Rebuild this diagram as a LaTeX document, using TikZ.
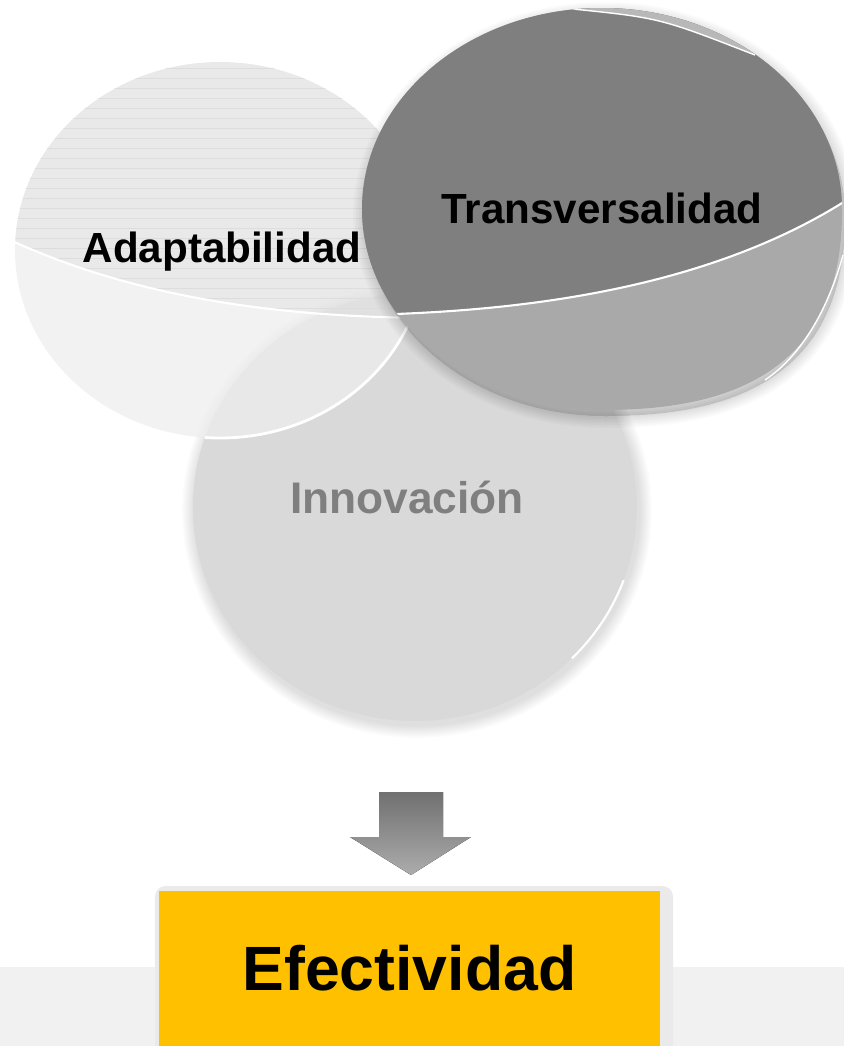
\documentclass[tikz,border=0pt]{standalone}
\usepackage{fontspec}
\setmainfont{Liberation Sans}
\definecolor{amarillo}{RGB}{255,192,0}
\definecolor{fondo}{RGB}{241,241,241}
\definecolor{adaptsup}{RGB}{227,227,227}
\definecolor{adaptinf}{RGB}{238,238,238}
\definecolor{raya}{RGB}{221,221,221}
\definecolor{innov}{RGB}{217,217,217}
\definecolor{transvsup}{RGB}{127,127,127}
\definecolor{transvinf}{RGB}{169,169,169}
\definecolor{borde}{RGB}{184,184,184}
\definecolor{textogris}{RGB}{127,127,127}
\definecolor{sombra}{RGB}{234,234,234}
\newcommand\formaT{(602,8) .. controls (734,8) and (842,98) .. (842,209) .. controls (844,390) and (700,410) .. (602,410) .. controls (470,410) and (362,320) .. (362,209) .. controls (362,98) and (470,8) .. (602,8) -- cycle}
\newcommand\curvaA{(10,240) .. controls (130,295) and (270,318) .. (440,318)}

\begin{document}
\begin{tikzpicture}[x=0.02cm, y=-0.02cm,
    etiqueta/.style={font=\bfseries\fontsize{24}{28}\selectfont, inner sep=0pt, anchor=base},
    brillo/.style={white, line width=1.2pt},
    capa/.style={black, opacity=0.016}]
  \clip (0,0) rectangle (844,1046);
  \fill[white] (0,0) rectangle (844,1046);
  \fill[fondo] (0,967) rectangle (844,1046);

  % Innovacion
  \foreach \k [evaluate=\k as \rx using 222+1.6*\k, evaluate=\k as \ry using 214+1.6*\k] in {1,...,8}
    \fill[capa] (417,511) ellipse [x radius=\rx, y radius=\ry];
  \fill[innov] (415,507) ellipse [x radius=222, y radius=214];
  \draw[brillo] (623.6,580.2) arc [start angle=20, end angle=45, x radius=222, y radius=214];

  % Adaptabilidad
  \begin{scope}
    \clip (220,250) ellipse [x radius=205, y radius=188];
    \fill[adaptsup, fill opacity=0.76] (0,0) -- (0,240) -- \curvaA -- (440,0) -- cycle;
    \fill[adaptinf, fill opacity=0.76] (0,500) -- (0,240) -- \curvaA -- (440,500) -- cycle;
    \begin{scope}
      \clip (0,0) -- (0,240) -- \curvaA -- (440,0) -- cycle;
      \foreach \yy in {68,78,...,318}
        \draw[raya, line width=0.35pt] (0,\yy) -- (440,\yy);
    \end{scope}
    \draw[brillo] \curvaA;
  \end{scope}
  \begin{scope}
    \clip (415,507) ellipse [x radius=222, y radius=214];
    \draw[brillo, line width=1.6pt] (220,250) ellipse [x radius=205, y radius=188];
  \end{scope}

  % Transversalidad
  \begin{scope}[shift={(3,6)}]
    \foreach \w in {1,...,8}
      \filldraw[capa, line width=\w*0.06cm] \formaT;
  \end{scope}
  \fill[transvinf] \formaT;
  \begin{scope}
    \clip \formaT;
    \fill[transvsup] (340,0) -- (340,315) -- (362,315) .. controls (500,312) and (700,295) .. (850,198) -- (850,0) -- cycle;
    \fill[borde] (573,9) .. controls (660,18) .. (755,55) -- (760,0) -- (560,0) -- cycle;
    \draw[brillo, line width=0.8pt] (573,9) .. controls (660,18) .. (755,55);
    \draw[brillo] (362,315) .. controls (500,312) and (700,295) .. (850,198);
  \end{scope}
  \draw[brillo, line width=0.8pt] (843,255) .. controls (825,320) and (795,360) .. (765,380);

  \node[etiqueta] (adapt) at (222,262) {Adaptabilidad};
  \node[etiqueta] (transv) at (602,223) {Transversalidad};
  \node[etiqueta, text=textogris, font=\bfseries\fontsize{25.2}{30}\selectfont] (innovacion) at (407,513) {Innovación};

  % flecha
  \fill[top color=gray!88!black, bottom color=gray!65] (379,792) -- (443,792) -- (443,837) -- (471,837) -- (411,875) -- (350,837) -- (379,837) -- cycle;

  \fill[sombra, rounded corners=6pt] (155,886) rectangle (673,1060);
  \node[fill=amarillo, minimum width=10.02cm, minimum height=3.1cm, inner sep=0pt,
        font=\bfseries\fontsize{35.6}{40}\selectfont] (efect) at (409.5,968.5) {Efectividad};
\end{tikzpicture}
\end{document}
